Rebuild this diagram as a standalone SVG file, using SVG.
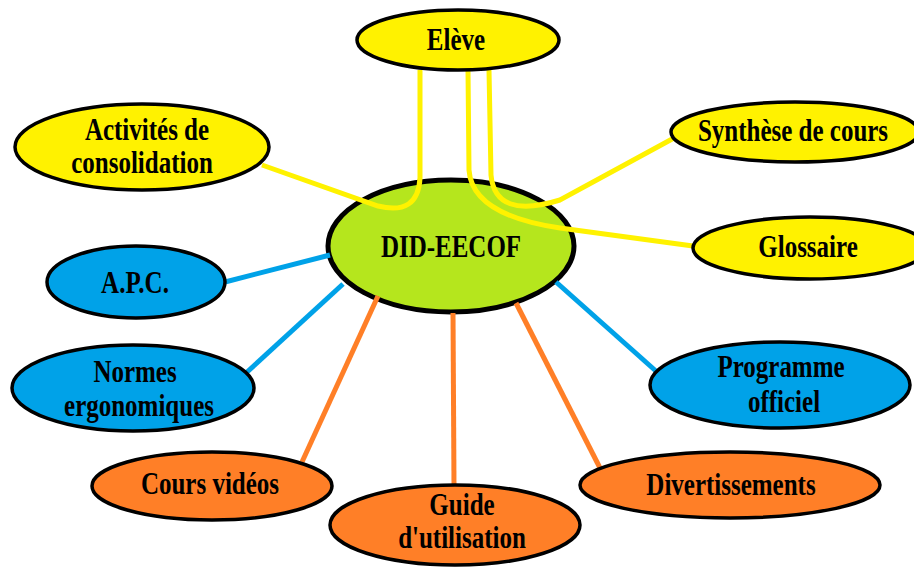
<svg xmlns="http://www.w3.org/2000/svg" width="914" height="569" viewBox="0 0 914 569">
<style>
.n{stroke:#000;stroke-width:3.5}
.y{fill:#fff200}.b{fill:#00a2e8}.o{fill:#ff7f27}.g{fill:#b5e61d}
.t{font-family:"Liberation Serif",serif;font-weight:bold;font-size:25px;fill:#000;text-anchor:middle}
.c path{fill:none;stroke-width:5}
.cy{stroke:#fff200}.cb{stroke:#00a2e8}.co{stroke:#ff7f27}
</style>
<rect width="914" height="569" fill="#fff"/>
<g id="center"><ellipse class="n g" cx="451" cy="246" rx="123" ry="66" style="stroke-width:5"/><text class="t" transform="translate(451,257) scale(1,1.25)">DID-EECOF</text></g>
<g id="connectors" class="c">
<path class="cy" d="M262,165 L378,206 Q418,216 420,178 L420,70"/>
<path class="cy" d="M468,70 L469,170 Q472,215 560,228 L693,246"/>
<path class="cy" d="M489,70 L491,175 Q495,220 560,200 L674,138"/>
<path class="cb" d="M225,282 L330,255"/>
<path class="cb" d="M246,373 L343,284"/>
<path class="cb" d="M657,372 L556,282"/>
<path class="co" d="M302,462 L378,296"/>
<path class="co" d="M454,486 L453,313"/>
<path class="co" d="M600,468 L516,303"/>
</g>
<g id="eleve"><ellipse class="n y" cx="458" cy="40" rx="101" ry="30"/><text class="t" transform="translate(456,50) scale(1,1.25)">Elève</text></g>
<g id="activites"><ellipse class="n y" cx="142" cy="147" rx="127" ry="43"/><text class="t" transform="translate(147,140) scale(1,1.25)">Activités de</text><text class="t" transform="translate(142,173) scale(1,1.25)">consolidation</text></g>
<g id="synthese"><ellipse class="n y" cx="795" cy="132" rx="124" ry="30"/><text class="t" transform="translate(793,141) scale(1,1.25)">Synthèse de cours</text></g>
<g id="glossaire"><ellipse class="n y" cx="810" cy="248" rx="117" ry="31"/><text class="t" transform="translate(808,257) scale(1,1.25)">Glossaire</text></g>
<g id="apc"><ellipse class="n b" cx="136" cy="282" rx="89" ry="36"/><text class="t" transform="translate(135,293) scale(1,1.25)">A.P.C.</text></g>
<g id="normes"><ellipse class="n b" cx="133" cy="388" rx="121" ry="43"/><text class="t" transform="translate(135,382) scale(1,1.25)">Normes</text><text class="t" transform="translate(139,416) scale(1,1.25)">ergonomiques</text></g>
<g id="programme"><ellipse class="n b" cx="780" cy="385" rx="130" ry="43"/><text class="t" transform="translate(781,377) scale(1,1.25)">Programme</text><text class="t" transform="translate(784,412) scale(1,1.25)">officiel</text></g>
<g id="cours"><ellipse class="n o" cx="212" cy="486" rx="120" ry="34"/><text class="t" transform="translate(210,494) scale(1,1.25)">Cours vidéos</text></g>
<g id="guide"><ellipse class="n o" cx="455" cy="525" rx="125" ry="40"/><text class="t" transform="translate(462,515) scale(1,1.25)">Guide</text><text class="t" transform="translate(462,548) scale(1,1.25)">d'utilisation</text></g>
<g id="divert"><ellipse class="n o" cx="730" cy="485" rx="150" ry="33"/><text class="t" transform="translate(731,495) scale(1,1.25)">Divertissements</text></g>
</svg>
